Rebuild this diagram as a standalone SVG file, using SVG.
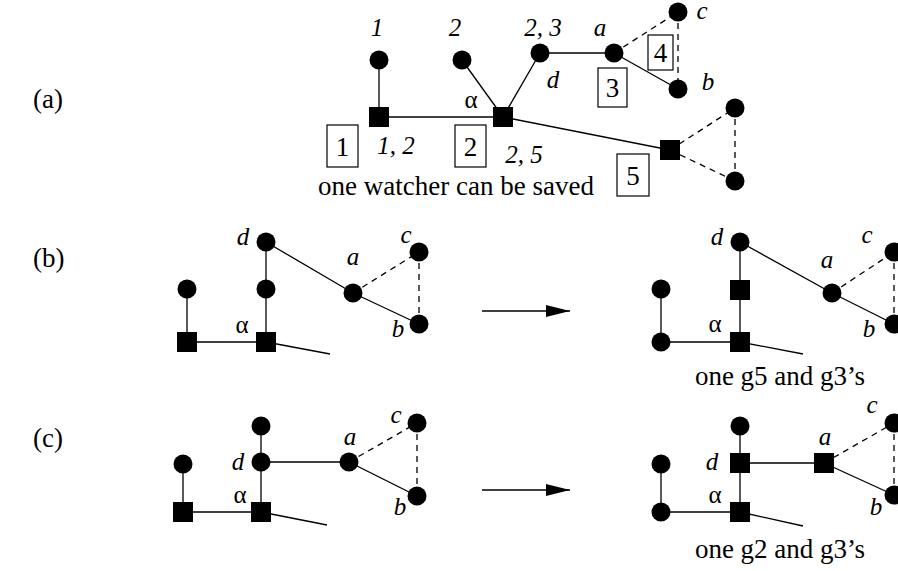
<svg xmlns="http://www.w3.org/2000/svg" width="898" height="571" viewBox="0 0 898 571">
<style>
.e{stroke:#000;stroke-width:1.3;fill:none}
.d{stroke:#000;stroke-width:1.3;fill:none;stroke-dasharray:6 5}
.c{fill:#000}
.t{font-family:"Liberation Serif","Times New Roman",serif;font-size:25px;fill:#000}
.u{font-size:27px}
.i{font-style:italic}
.m{text-anchor:middle}
.bx{fill:#fff;stroke:#000;stroke-width:1.2}
</style>
<defs>
<marker id="ah" viewBox="0 0 24 12" refX="24" refY="6" markerWidth="24" markerHeight="12" markerUnits="userSpaceOnUse" orient="auto">
<path d="M0,0 L24,6 L0,12 z" fill="#000"/>
</marker>
</defs>
<rect width="898" height="571" fill="#fff"/>

<!-- panel labels -->
<text class="t u" x="33" y="108">(a)</text>
<text class="t u" x="33" y="267">(b)</text>
<text class="t u" x="33" y="447">(c)</text>

<g id="connectors">
<!-- (a) -->
<line class="e" x1="379" y1="60" x2="379" y2="117"/>
<line class="e" x1="379" y1="117" x2="503" y2="117"/>
<line class="e" x1="462" y1="60" x2="503" y2="117"/>
<line class="e" x1="540" y1="53" x2="503" y2="117"/>
<line class="e" x1="540" y1="53" x2="614" y2="53"/>
<line class="e" x1="614" y1="53" x2="678" y2="89"/>
<line class="d" x1="614" y1="53" x2="678" y2="12"/>
<line class="d" x1="678" y1="12" x2="678" y2="89"/>
<line class="e" x1="503" y1="117" x2="670" y2="150"/>
<line class="d" x1="670" y1="150" x2="735" y2="108"/>
<line class="d" x1="670" y1="150" x2="735" y2="181"/>
<line class="d" x1="735" y1="108" x2="735" y2="181"/>
<!-- (b) left -->
<line class="e" x1="187" y1="289" x2="187" y2="342"/>
<line class="e" x1="187" y1="342" x2="266" y2="342"/>
<line class="e" x1="266" y1="342" x2="266" y2="242"/>
<line class="e" x1="266" y1="242" x2="353" y2="293"/>
<line class="e" x1="353" y1="293" x2="419" y2="324"/>
<line class="d" x1="353" y1="293" x2="419" y2="252"/>
<line class="d" x1="419" y1="252" x2="419" y2="324"/>
<line class="e" x1="266" y1="342" x2="330" y2="354"/>
<!-- (b) arrow -->
<line class="e" x1="482" y1="311" x2="570" y2="311" marker-end="url(#ah)"/>
<!-- (b) right -->
<line class="e" x1="661" y1="289" x2="661" y2="342"/>
<line class="e" x1="661" y1="342" x2="740" y2="342"/>
<line class="e" x1="740" y1="342" x2="740" y2="242"/>
<line class="e" x1="740" y1="242" x2="832" y2="293"/>
<line class="e" x1="832" y1="293" x2="894" y2="324"/>
<line class="d" x1="832" y1="293" x2="894" y2="252"/>
<line class="d" x1="894" y1="252" x2="894" y2="324"/>
<line class="e" x1="740" y1="342" x2="803" y2="354"/>
<!-- (c) left -->
<line class="e" x1="183" y1="464" x2="183" y2="512"/>
<line class="e" x1="183" y1="512" x2="261" y2="512"/>
<line class="e" x1="261" y1="512" x2="261" y2="426"/>
<line class="e" x1="261" y1="462" x2="349" y2="462"/>
<line class="e" x1="349" y1="462" x2="417" y2="496"/>
<line class="d" x1="349" y1="462" x2="417" y2="423"/>
<line class="d" x1="417" y1="423" x2="417" y2="496"/>
<line class="e" x1="261" y1="512" x2="327" y2="525"/>
<!-- (c) arrow -->
<line class="e" x1="482" y1="490" x2="570" y2="490" marker-end="url(#ah)"/>
<!-- (c) right -->
<line class="e" x1="661" y1="464" x2="661" y2="512"/>
<line class="e" x1="661" y1="512" x2="740" y2="512"/>
<line class="e" x1="740" y1="512" x2="740" y2="426"/>
<line class="e" x1="740" y1="463" x2="824" y2="463"/>
<line class="e" x1="824" y1="463" x2="894" y2="495"/>
<line class="d" x1="824" y1="463" x2="894" y2="423"/>
<line class="d" x1="894" y1="423" x2="894" y2="495"/>
<line class="e" x1="740" y1="512" x2="803" y2="526"/>
</g>

<!-- (a) nodes -->
<g id="a-n1"><circle class="c" cx="379" cy="60" r="9.5"/><text class="t i m" x="377" y="36">1</text></g>
<g id="a-s1"><rect class="c" x="369" y="107" width="20" height="20"/><text class="t i m" x="396" y="154">1, 2</text></g>
<g id="a-n2"><circle class="c" cx="462" cy="60" r="9.5"/><text class="t i m" x="455" y="36">2</text></g>
<g id="a-alpha"><rect class="c" x="493" y="107" width="20" height="20"/><text class="t m" x="471" y="108">α</text><text class="t i m" x="524" y="163">2, 5</text></g>
<g id="a-d"><circle class="c" cx="540" cy="53" r="9.5"/><text class="t i m" x="543" y="36">2, 3</text><text class="t i m" x="553" y="88">d</text></g>
<g id="a-a"><circle class="c" cx="614" cy="53" r="9.5"/><text class="t i m" x="600" y="36">a</text></g>
<g id="a-c"><circle class="c" cx="678" cy="12" r="9.5"/><text class="t i m" x="702" y="19">c</text></g>
<g id="a-b"><circle class="c" cx="678" cy="89" r="9.5"/><text class="t i m" x="708" y="90">b</text></g>
<g id="a-s5"><rect class="c" x="660" y="140" width="20" height="20"/></g>
<g id="a-t1"><circle class="c" cx="735" cy="108" r="9.5"/></g>
<g id="a-t2"><circle class="c" cx="735" cy="181" r="9.5"/></g>
<g id="a-box1"><rect class="bx" x="327" y="125" width="31" height="42"/><text class="t u m" x="342.5" y="156">1</text></g>
<g id="a-box2"><rect class="bx" x="455" y="125" width="31" height="42"/><text class="t u m" x="470.5" y="156">2</text></g>
<g id="a-box3"><rect class="bx" x="598" y="68" width="29" height="39"/><text class="t u m" x="612.5" y="97">3</text></g>
<g id="a-box4"><rect class="bx" x="648" y="35" width="25" height="35"/><text class="t u m" x="660.5" y="62">4</text></g>
<g id="a-box5"><rect class="bx" x="617" y="154" width="32" height="42"/><text class="t u m" x="633" y="185">5</text></g>
<g id="a-caption"><text class="t u m" x="456" y="195">one watcher can be saved</text></g>

<!-- (b) left nodes -->
<g id="bl-top"><circle class="c" cx="187" cy="289" r="9.5"/></g>
<g id="bl-sq"><rect class="c" x="177" y="332" width="20" height="20"/></g>
<g id="bl-alpha"><rect class="c" x="256" y="332" width="20" height="20"/><text class="t m" x="242" y="333">α</text></g>
<g id="bl-mid"><circle class="c" cx="266" cy="289" r="9.5"/></g>
<g id="bl-d"><circle class="c" cx="266" cy="242" r="9.5"/><text class="t i m" x="243" y="245">d</text></g>
<g id="bl-a"><circle class="c" cx="353" cy="293" r="9.5"/><text class="t i m" x="353" y="265">a</text></g>
<g id="bl-c"><circle class="c" cx="419" cy="252" r="9.5"/><text class="t i m" x="406" y="243">c</text></g>
<g id="bl-b"><circle class="c" cx="419" cy="324" r="9.5"/><text class="t i m" x="398" y="337">b</text></g>

<!-- (b) right nodes -->
<g id="br-top"><circle class="c" cx="661" cy="289" r="9.5"/></g>
<g id="br-low"><circle class="c" cx="661" cy="342" r="9.5"/></g>
<g id="br-alpha"><rect class="c" x="730" y="332" width="20" height="20"/><text class="t m" x="715" y="332">α</text></g>
<g id="br-mid"><rect class="c" x="730" y="280" width="20" height="20"/></g>
<g id="br-d"><circle class="c" cx="740" cy="242" r="9.5"/><text class="t i m" x="717" y="245">d</text></g>
<g id="br-a"><circle class="c" cx="832" cy="293" r="9.5"/><text class="t i m" x="827" y="268">a</text></g>
<g id="br-c"><circle class="c" cx="894" cy="252" r="9.5"/><text class="t i m" x="867" y="243">c</text></g>
<g id="br-b"><circle class="c" cx="894" cy="324" r="9.5"/><text class="t i m" x="869" y="337">b</text></g>
<g id="br-caption"><text class="t u m" x="780" y="385">one g5 and g3’s</text></g>

<!-- (c) left nodes -->
<g id="cl-top"><circle class="c" cx="183" cy="464" r="9.5"/></g>
<g id="cl-sq"><rect class="c" x="173" y="502" width="20" height="20"/></g>
<g id="cl-alpha"><rect class="c" x="251" y="502" width="20" height="20"/><text class="t m" x="240" y="503">α</text></g>
<g id="cl-d"><circle class="c" cx="261" cy="462" r="9.5"/><text class="t i m" x="238" y="470">d</text></g>
<g id="cl-up"><circle class="c" cx="261" cy="426" r="9.5"/></g>
<g id="cl-a"><circle class="c" cx="349" cy="462" r="9.5"/><text class="t i m" x="350" y="445">a</text></g>
<g id="cl-c"><circle class="c" cx="417" cy="423" r="9.5"/><text class="t i m" x="396" y="423">c</text></g>
<g id="cl-b"><circle class="c" cx="417" cy="496" r="9.5"/><text class="t i m" x="400" y="515">b</text></g>

<!-- (c) right nodes -->
<g id="cr-top"><circle class="c" cx="661" cy="464" r="9.5"/></g>
<g id="cr-low"><circle class="c" cx="661" cy="512" r="9.5"/></g>
<g id="cr-alpha"><rect class="c" x="730" y="502" width="20" height="20"/><text class="t m" x="715" y="503">α</text></g>
<g id="cr-d"><rect class="c" x="730" y="453" width="20" height="20"/><text class="t i m" x="712" y="470">d</text></g>
<g id="cr-up"><circle class="c" cx="740" cy="426" r="9.5"/></g>
<g id="cr-a"><rect class="c" x="814" y="453" width="20" height="20"/><text class="t i m" x="825" y="445">a</text></g>
<g id="cr-c"><circle class="c" cx="894" cy="423" r="9.5"/><text class="t i m" x="872" y="413">c</text></g>
<g id="cr-b"><circle class="c" cx="894" cy="495" r="9.5"/><text class="t i m" x="876" y="515">b</text></g>
<g id="cr-caption"><text class="t u m" x="780" y="558">one g2 and g3’s</text></g>
</svg>
